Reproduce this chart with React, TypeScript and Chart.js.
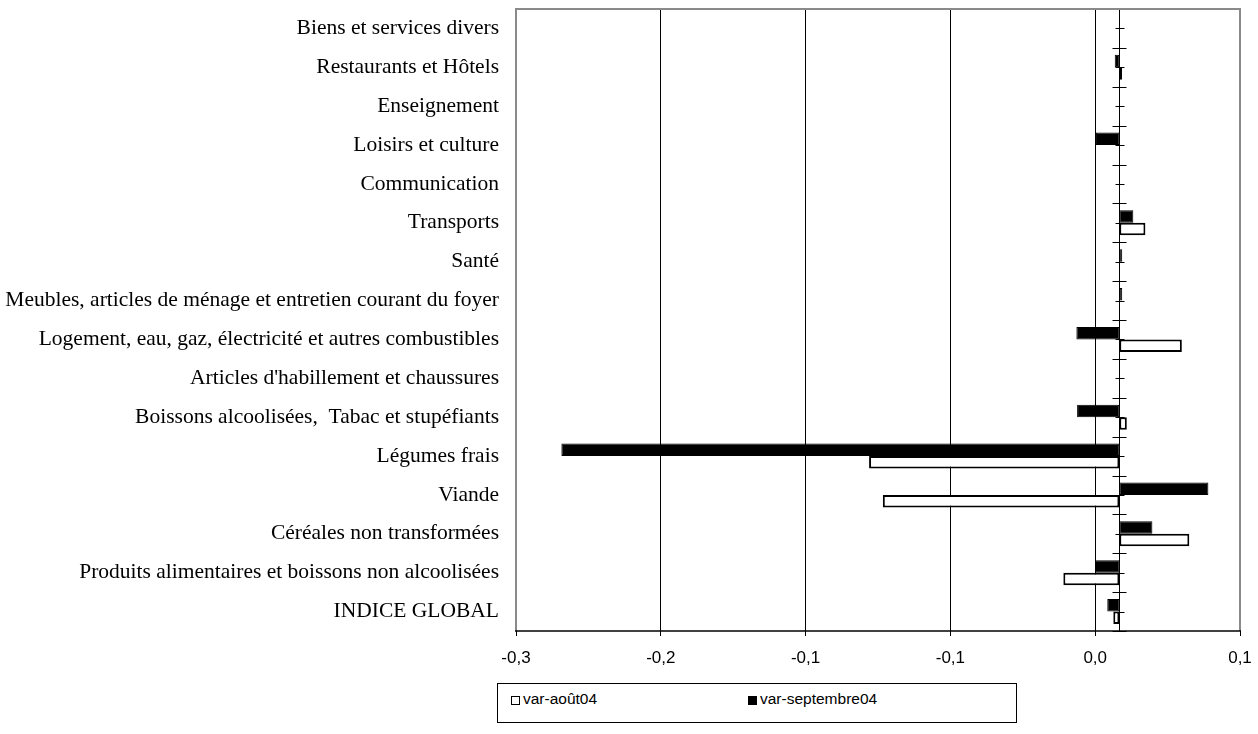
import React, { useEffect, useRef } from "react";
import { Chart, registerables } from "chart.js";

Chart.register(...registerables);

// Categories, top to bottom as they appear
const categories = [
  "Biens et services divers",
  "Restaurants et Hôtels",
  "Enseignement",
  "Loisirs et culture",
  "Communication",
  "Transports",
  "Santé",
  "Meubles, articles de ménage et entretien courant du foyer",
  "Logement, eau, gaz, électricité et autres combustibles",
  "Articles d'habillement et chaussures",
  "Boissons alcoolisées,  Tabac et stupéfiants",
  "Légumes frais",
  "Viande",
  "Céréales non transformées",
  "Produits alimentaires et boissons non alcoolisées",
  "INDICE GLOBAL",
];

// var-août04 (white bars)
const varAout04 = [
  0, 0.0011, 0, 0, 0, 0.0108, 0, 0, 0.0259, 0, 0.0031, -0.1037, -0.098, 0.029,
  -0.0232, -0.0025,
];

// var-septembre04 (black bars)
const varSeptembre04 = [
  0, -0.0019, 0, -0.0097, 0, 0.0058, 0.0012, 0.0012, -0.0178, 0, -0.0175,
  -0.2312, 0.0369, 0.0137, -0.0101, -0.005,
];

const xTickValues = [-0.25, -0.19, -0.13, -0.07, -0.01, 0.05];
const xTickLabels = ["-0,3", "-0,2", "-0,1", "-0,1", "0,0", "0,1"];
const legendLabels = ["var-août04", "var-septembre04"];

const SERIF = "'Liberation Serif', 'Times New Roman', serif";
const SANS = "'Liberation Sans', Arial, sans-serif";

export default function App() {
  const canvasRef = useRef<HTMLCanvasElement>(null);

  useEffect(() => {
    if (!canvasRef.current) return;

    const excelFrame = {
      id: "excelFrame",
      afterDatasetsDraw(chart: any) {
        const { ctx, chartArea: a, scales } = chart;
        const x0 = Math.round(scales.x.getPixelForValue(0)) + 0.5;
        const n = categories.length;
        const h = (a.bottom - a.top) / n;
        ctx.save();
        ctx.strokeStyle = "#000";
        ctx.lineWidth = 1;
        ctx.beginPath();
        ctx.moveTo(x0, a.top);
        ctx.lineTo(x0, a.bottom);
        for (let i = 0; i <= n; i++) {
          const y = Math.round(a.top + i * h) + 0.5;
          ctx.moveTo(x0 - 7, y);
          ctx.lineTo(x0 + 7, y);
        }
        for (let i = 0; i < n; i++) {
          const y = Math.round(a.top + (i + 0.5) * h) + 0.5;
          ctx.moveTo(x0 - 4, y);
          ctx.lineTo(x0 + 5, y);
        }
        ctx.stroke();
        ctx.restore();
      },
      afterDraw(chart: any) {
        const { ctx, chartArea: a } = chart;
        ctx.save();
        ctx.strokeStyle = "#8a8a8a";
        ctx.lineWidth = 2;
        ctx.beginPath();
        ctx.moveTo(a.left, a.bottom);
        ctx.lineTo(a.left, a.top);
        ctx.lineTo(a.right, a.top);
        ctx.lineTo(a.right, a.bottom);
        ctx.stroke();
        ctx.strokeStyle = "#000";
        ctx.lineWidth = 1.5;
        ctx.beginPath();
        ctx.moveTo(a.left - 1, a.bottom);
        ctx.lineTo(a.right + 1, a.bottom);
        ctx.stroke();
        ctx.restore();
      },
    };

    const chart = new Chart(canvasRef.current, {
      type: "bar",
      data: {
        labels: categories,
        datasets: [
          {
            label: legendLabels[1],
            data: varSeptembre04,
            backgroundColor: "#000",
            borderColor: "#000",
            borderWidth: 1,
            borderSkipped: false,
            categoryPercentage: 0.645,
            barPercentage: 1.0,
          },
          {
            label: legendLabels[0],
            data: varAout04,
            backgroundColor: "#fff",
            borderColor: "#000",
            borderWidth: 2,
            borderSkipped: false,
            categoryPercentage: 0.645,
            barPercentage: 1.0,
          },
        ],
      },
      options: {
        indexAxis: "y",
        responsive: false,
        maintainAspectRatio: false,
        devicePixelRatio: 1,
        animation: false,
        layout: { padding: { left: 0, top: 9, right: 18, bottom: 43 } },
        plugins: {
          legend: { display: false },
          tooltip: { enabled: false },
        },
        scales: {
          x: {
            type: "linear",
            min: xTickValues[0],
            max: xTickValues[xTickValues.length - 1],
            afterBuildTicks: (scale: any) => {
              scale.ticks = xTickValues.map((v) => ({ value: v }));
            },
            afterFit: (scale: any) => {
              scale.height = 60;
              scale.paddingLeft = 0;
              scale.paddingRight = 0;
            },
            ticks: {
              autoSkip: false,
              maxRotation: 0,
              padding: 12,
              color: "#000",
              font: { family: SANS, size: 17 },
              callback: (_v: any, i: number) => xTickLabels[i],
            },
            grid: {
              color: "#000",
              lineWidth: 1,
              drawTicks: true,
              tickLength: 5,
            },
            border: { display: false },
          },
          y: {
            type: "category",
            afterFit: (scale: any) => {
              scale.width = 516;
              scale.paddingTop = 0;
              scale.paddingBottom = 0;
            },
            ticks: {
              autoSkip: false,
              padding: 17,
              color: "#000",
              font: { family: SERIF, size: 21.5 },
            },
            grid: { display: false, drawTicks: false },
            border: { display: false },
          },
        },
      },
      plugins: [excelFrame],
    } as any);

    return () => chart.destroy();
  }, []);

  const markerBase: React.CSSProperties = {
    display: "inline-block",
    width: 9,
    height: 9,
    boxSizing: "border-box",
    border: "1.5px solid #000",
    marginRight: 3,
    verticalAlign: "-1px",
  };

  return (
    <div
      style={{
        position: "absolute",
        left: 0,
        top: 0,
        width: 1258,
        height: 734,
        background: "#fff",
        overflow: "hidden",
      }}
    >
      <canvas
        ref={canvasRef}
        width={1258}
        height={734}
        style={{ display: "block", width: 1258, height: 734 }}
      />
      <div
        style={{
          position: "absolute",
          left: 497,
          top: 683,
          width: 520,
          height: 40,
          boxSizing: "border-box",
          border: "1px solid #000",
          fontFamily: SANS,
          fontSize: 15.5,
          color: "#000",
          background: "#fff",
        }}
      >
        <span style={{ position: "absolute", left: 13, top: 6, whiteSpace: "nowrap" }}>
          <span style={{ ...markerBase, background: "#fff" }} />
          {legendLabels[0]}
        </span>
        <span style={{ position: "absolute", left: 250, top: 6, whiteSpace: "nowrap" }}>
          <span style={{ ...markerBase, background: "#000" }} />
          {legendLabels[1]}
        </span>
      </div>
    </div>
  );
}
